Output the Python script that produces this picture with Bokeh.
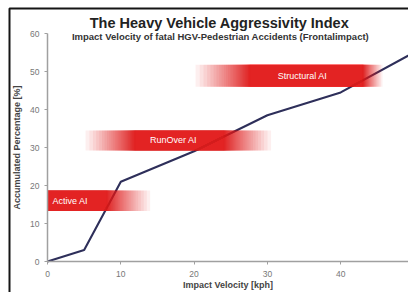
from bokeh.plotting import figure
from bokeh.models import Range1d, Label, FixedTicker, LinearAxis
from bokeh.embed import file_html
from bokeh.resources import INLINE

# data
velocity = [0, 5, 10, 20, 30, 40, 50]
accumulated = [0, 3, 21, 29, 38.5, 44.5, 55]
x_ticks = [0, 10, 20, 30, 40, 50]
y_ticks = [0, 10, 20, 30, 40, 50, 60]

band_names = ["Active AI", "RunOver AI", "Structural AI"]
band_x0 = [0, 5.2, 20.2]
band_solid0 = [0, 12.0, 27.7]
band_solid1 = [8.0, 24.0, 43.0]
band_x1 = [14.0, 30.5, 45.7]
band_y0 = [13.3, 29.2, 46.0]
band_y1 = [18.7, 34.5, 51.8]

RED = "#e3201f"

# layout: canvas pixel of the data origin and pixels per unit
W, H = 408, 292
OX, OY = 47, 261
SX, SY = 7.33, 3.8
def px_x(px):
    return (px - OX) / SX
def px_y(py):
    return (OY - py) / SY

p = figure(width=W, height=H, output_backend="svg", toolbar_location=None,
           x_range=Range1d(px_x(0), px_x(W)), y_range=Range1d(px_y(H), px_y(0)),
           x_axis_location=None, y_axis_location=None,
           min_border_left=0, min_border_right=0, min_border_top=0, min_border_bottom=0)
p.outline_line_color = None
p.xgrid.visible = False
p.ygrid.visible = False
p.background_fill_color = "white"
p.border_fill_color = "white"

xaxis = LinearAxis(fixed_location=0, ticker=FixedTicker(ticks=x_ticks), bounds=(0, 50),
                   axis_label="Impact Velocity [kph]")
yaxis = LinearAxis(fixed_location=0, ticker=FixedTicker(ticks=y_ticks), bounds=(0, 60),
                   axis_label="Accumulated Percentage [%]")
for ax in (xaxis, yaxis):
    ax.axis_line_color = "#a0a0a0"
    ax.axis_line_width = 1.5
    ax.major_tick_line_color = "#a0a0a0"
    ax.major_tick_out = 3
    ax.major_tick_in = 0
    ax.minor_tick_line_color = None
    ax.major_label_text_color = "#777777"
    ax.major_label_text_font = "Liberation Sans"
    ax.major_label_text_font_size = "8.5px"
    ax.axis_label_text_font = "Liberation Sans"
    ax.axis_label_text_font_size = "9px"
    ax.axis_label_text_font_style = "bold"
    ax.axis_label_text_color = "#444444"
xaxis.major_label_standoff = 6
xaxis.axis_label_standoff = 0
yaxis.major_label_standoff = 5
yaxis.axis_label_standoff = 5
p.add_layout(xaxis, "below")
p.add_layout(yaxis, "left")

p.line(velocity, accumulated, line_color="#2e2f5a", line_width=2.1)

# gradient bands: nested layers so that the alpha ramps up linearly without seams
N = 40
MAXA = 0.95
a = 1 - (1 - MAXA) ** (1.0 / N)
for i in range(3):
    lefts, rights = [], []
    for j in range(N):
        t = (1 - (1 - a) ** j) / MAXA
        lefts.append(band_x0[i] + t * (band_solid0[i] - band_x0[i]))
        rights.append(band_x1[i] - t * (band_x1[i] - band_solid1[i]))
    p.quad(left=lefts, right=rights, bottom=band_y0[i], top=band_y1[i],
           fill_color=RED, fill_alpha=a, line_color=None)

label_x = [px_x(52), 17.2, 34.8]
label_align = ["left", "center", "center"]
for i in range(3):
    p.add_layout(Label(x=label_x[i], y=(band_y0[i] + band_y1[i]) / 2, text=band_names[i],
                       text_align=label_align[i], text_baseline="middle",
                       text_color="white", text_font="Liberation Sans", text_font_size="9px"))

p.add_layout(Label(x=px_x(219), y=px_y(22), text="The Heavy Vehicle Aggressivity Index",
                   text_align="center", text_baseline="middle", text_color="#222222",
                   text_font="Liberation Sans", text_font_size="14.5px", text_font_style="bold"))
p.add_layout(Label(x=px_x(220), y=px_y(36), text="Impact Velocity of fatal HGV-Pedestrian Accidents (Frontalimpact)",
                   text_align="center", text_baseline="middle", text_color="#333333",
                   text_font="Liberation Sans", text_font_size="9.5px", text_font_style="bold"))

# picture frame (black border on the top and left)
p.line([px_x(9), px_x(9), px_x(W + 5)], [px_y(H + 5), px_y(8), px_y(8)],
       line_color="#151515", line_width=2)

open("out.html", "w").write(file_html(p, INLINE))
